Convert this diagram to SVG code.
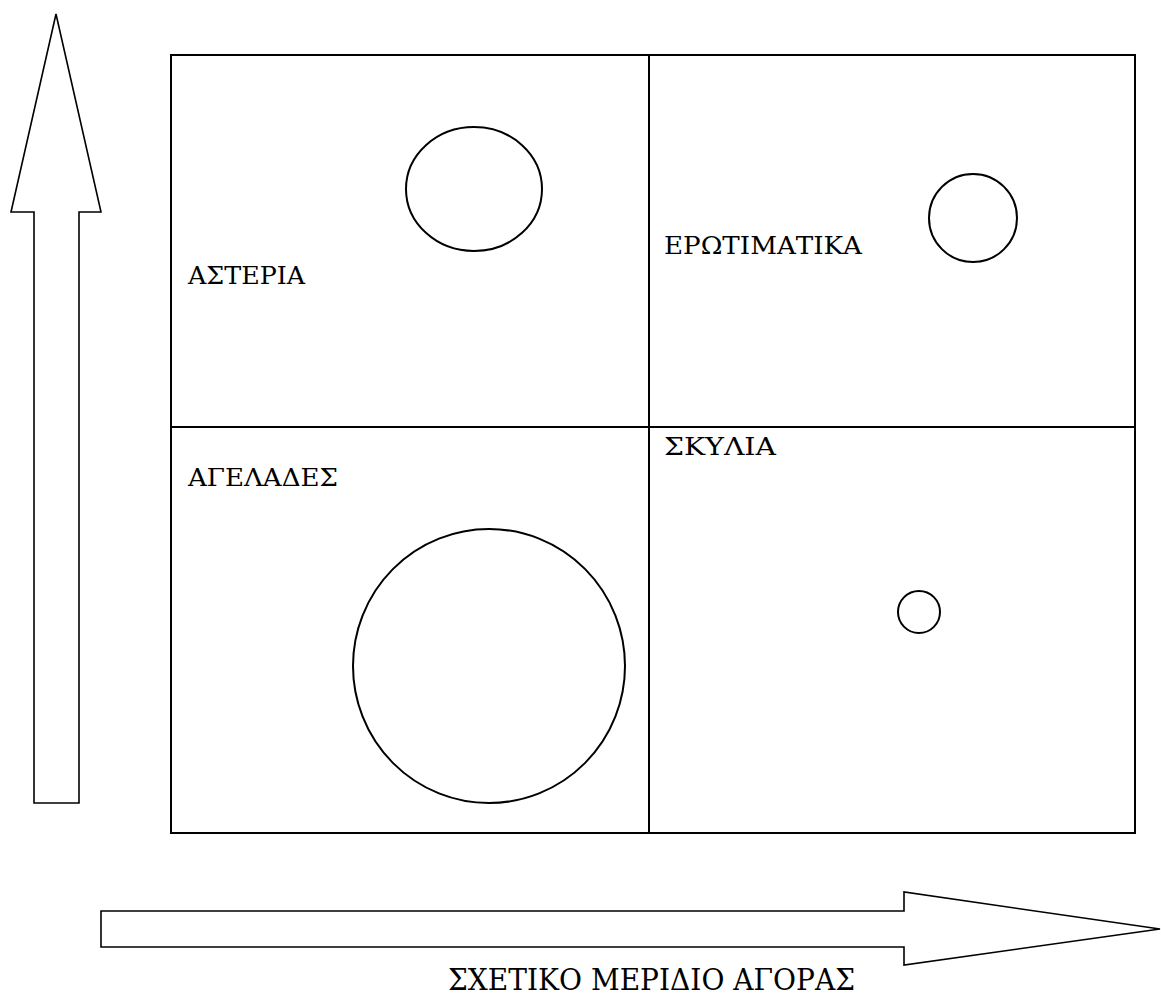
<svg xmlns="http://www.w3.org/2000/svg" width="1161" height="997" viewBox="0 0 1161 997">
<style>
.ln{fill:none;stroke:#000;stroke-width:2}
.ar{fill:#fff;stroke:#000;stroke-width:1.6;stroke-linejoin:miter}
.lb{font-family:"DejaVu Serif","Liberation Serif",serif;font-size:25px;fill:#000}
.ax{font-family:"DejaVu Serif","Liberation Serif",serif;font-size:29px;fill:#000}
</style>
<rect width="1161" height="997" fill="#fff"/>
<g id="connectors">
<path id="arrow-up" class="ar" d="M56,14 L101,212 L79,212 L79,803 L34,803 L34,212 L11,212 Z"/>
<path id="arrow-right" class="ar" d="M1160,929 L904,965 L904,947 L101,947 L101,911 L904,911 L904,892 Z"/>
</g>
<g id="grid">
<rect class="ln" x="171" y="55" width="964" height="778"/>
<line class="ln" x1="649" y1="55" x2="649" y2="833"/>
<line class="ln" x1="171" y1="427" x2="1135" y2="427"/>
</g>
<g id="stars"><ellipse class="ln" cx="474" cy="189" rx="68" ry="62" stroke-width="1.5"/><text class="lb" x="188" y="284" textLength="117" lengthAdjust="spacingAndGlyphs">ΑΣΤΕΡΙΑ</text></g>
<g id="questions"><circle class="ln" cx="973" cy="218" r="44" stroke-width="1.5"/><text class="lb" x="664" y="254" textLength="198" lengthAdjust="spacingAndGlyphs">ΕΡΩΤΙΜΑΤΙΚΑ</text></g>
<g id="cows"><ellipse class="ln" cx="489" cy="666" rx="136" ry="137" stroke-width="1.5"/><text class="lb" x="188" y="486" textLength="150" lengthAdjust="spacingAndGlyphs">ΑΓΕΛΑΔΕΣ</text></g>
<g id="dogs"><circle class="ln" cx="919" cy="612" r="21" stroke-width="1.5"/><text class="lb" x="664" y="455" textLength="112" lengthAdjust="spacingAndGlyphs">ΣΚΥΛΙΑ</text></g>
<g id="axis-label"><text class="ax" x="448" y="990" textLength="407" lengthAdjust="spacingAndGlyphs">ΣΧΕΤΙΚΟ ΜΕΡΙΔΙΟ ΑΓΟΡΑΣ</text></g>
</svg>
